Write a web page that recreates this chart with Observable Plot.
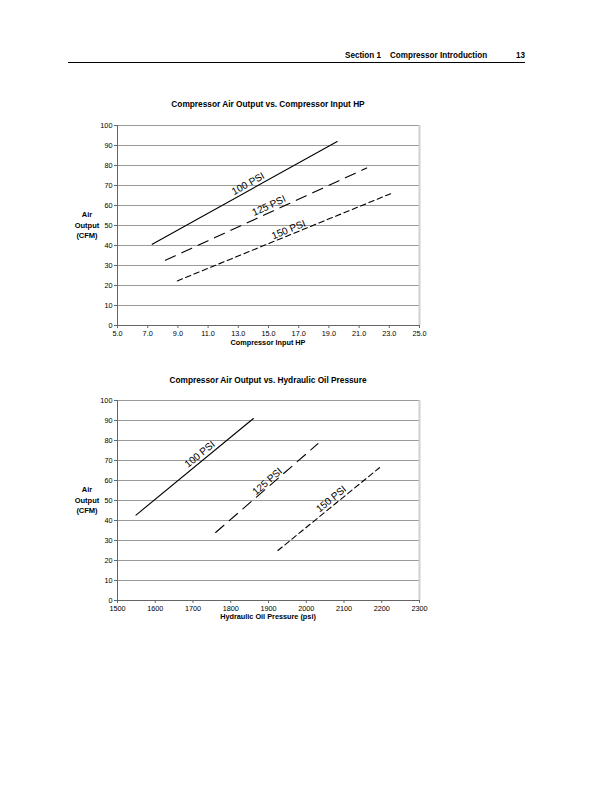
<!DOCTYPE html>
<html><head><meta charset="utf-8">
<script src="https://cdn.jsdelivr.net/npm/d3@7"></script>
<script src="https://cdn.jsdelivr.net/npm/@observablehq/plot@0.6"></script>
<style>
body{margin:0;width:612px;height:792px;position:relative;background:#fff;font-family:"Liberation Sans",Arial,sans-serif;color:#000;}
.abs{position:absolute;white-space:nowrap;}
.hdr{font-weight:bold;font-size:9px;top:50px;transform:scaleX(0.9);transform-origin:left center;}
.title{font-weight:bold;font-size:8.3px;left:0;width:536px;text-align:center;}
.xlab{font-weight:bold;font-size:7.3px;left:0;width:536px;text-align:center;}
.ylab{font-weight:bold;font-size:7.5px;line-height:10.5px;left:67px;width:40px;text-align:center;}
svg{position:absolute;left:0;}
</style></head><body>
<div class="abs hdr" style="left:345px">Section 1</div>
<div class="abs hdr" style="left:390px">Compressor Introduction</div>
<div class="abs hdr" style="left:516px">13</div>
<div class="abs" style="left:68px;top:62px;width:457px;height:0;border-top:1px solid #000"></div>

<div class="abs title" style="top:99px">Compressor Air Output vs. Compressor Input HP</div>
<div class="abs ylab" style="top:210px">Air<br>Output<br>(CFM)</div>
<div class="abs xlab" style="top:338px">Compressor Input HP</div>

<div class="abs title" style="top:375px">Compressor Air Output vs. Hydraulic Oil Pressure</div>
<div class="abs ylab" style="top:485px">Air<br>Output<br>(CFM)</div>
<div class="abs xlab" style="top:612px">Hydraulic Oil Pressure (psi)</div>

<script>
// ---- Data ----
const yTicks = [0,10,20,30,40,50,60,70,80,90,100];
const seriesNames = ["100 PSI","125 PSI","150 PSI"];

// Chart 1: Compressor Input HP
const hpTicks = [5,7,9,11,13,15,17,19,21,23,25];
const hp100x = [7.3, 19.55];  const hp100y = [40.6, 92];
const hp125x = [8.17, 21.5];  const hp125y = [32.6, 78.7];
const hp150x = [8.96, 23.09]; const hp150y = [22.3, 65.9];
const hpLabelX = [13.65, 15.03, 16.33];
const hpLabelY = [70.9, 59.9, 47.9];

// Chart 2: Hydraulic Oil Pressure
const psiTicks = [1500,1600,1700,1800,1900,2000,2100,2200,2300];
const op100x = [1549, 1860]; const op100y = [42.7, 91];
const op125x = [1760, 2031]; const op125y = [34, 78.4];
const op150x = [1925, 2194]; const op150y = [25, 66.4];
const opLabelX = [1718, 1897, 2066];
const opLabelY = [73.1, 59.5, 50.7];

// ---- Styles ----
const dashes = [null, "11,7", "5.5,3.5"];
const W = 612, H = 260, mL = 117, mR = 193, mT = 30, mB = 30;

function build(top, xDomain, xTicks, xFmt, xs, ys, lx, ly) {
  const rows = [];
  xs.forEach((xa, i) => xa.forEach((x, j) => rows.push({s: seriesNames[i], x, y: ys[i][j]})));
  const ppx = (W - mL - mR) / (xDomain[1] - xDomain[0]);
  const ppy = (H - mT - mB) / 100;
  const labels = seriesNames.map((s, i) => ({
    s, x: lx[i], y: ly[i],
    a: -Math.atan2((ys[i][1] - ys[i][0]) * ppy, (xs[i][1] - xs[i][0]) * ppx) * 180 / Math.PI
  }));
  const marks = [
    Plot.gridY(yTicks, {stroke: "#9a9a9a", strokeOpacity: 1}),
    Plot.ruleX([xDomain[1]], {stroke: "#cfcfcf", strokeWidth: 2}),
    Plot.axisY(yTicks, {tickSize: 3, tickPadding: 2, stroke: "#666", fontSize: 7.3, label: null}),
    Plot.axisX(xTicks, {tickSize: 3, tickPadding: 2, stroke: "#666", fontSize: 7.3, tickFormat: xFmt, label: null}),
    Plot.ruleX([xDomain[0]], {stroke: "#666"}),
    Plot.ruleY([0], {stroke: "#666"})
  ];
  seriesNames.forEach((s, i) => {
    marks.push(Plot.line(rows.filter(r => r.s === s), {x: "x", y: "y", stroke: "#000", strokeWidth: 1.1, strokeDasharray: dashes[i]}));
  });
  labels.forEach(l => {
    marks.push(Plot.text([l], {x: "x", y: "y", text: "s", rotate: l.a, fontSize: 10, fill: "#000", textAnchor: "middle", lineAnchor: "middle"}));
  });
  const svg = Plot.plot({
    width: W, height: H, marginLeft: mL, marginRight: mR, marginTop: mT, marginBottom: mB,
    x: {domain: xDomain}, y: {domain: [0, 100]},
    style: {fontFamily: '"Liberation Sans", Arial, sans-serif', color: "#000", background: "transparent"},
    marks
  });
  svg.style.top = top + "px";
  document.body.appendChild(svg);
}

build(95, [5, 25], hpTicks, d => d.toFixed(1), [hp100x, hp125x, hp150x], [hp100y, hp125y, hp150y], hpLabelX, hpLabelY);
build(370, [1500, 2300], psiTicks, d => String(d), [op100x, op125x, op150x], [op100y, op125y, op150y], opLabelX, opLabelY);
</script>
</body></html>
